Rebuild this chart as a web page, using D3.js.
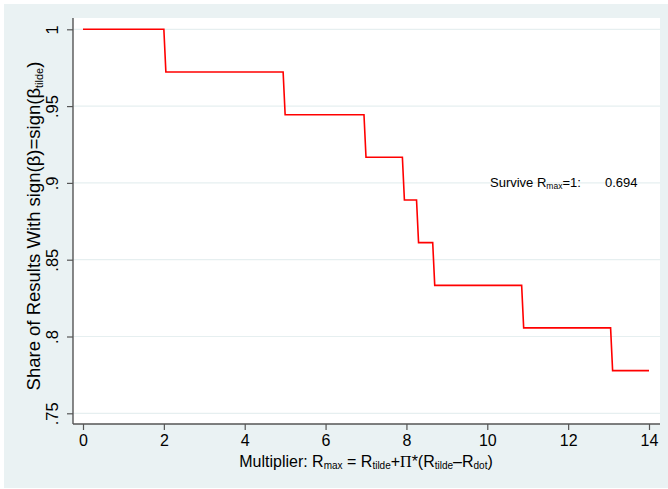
<!DOCTYPE html>
<html>
<head>
<meta charset="utf-8">
<script src="https://cdn.jsdelivr.net/npm/d3@7"></script>
<style>
  body { margin: 0; background: #fff; }
  svg { display: block; }
  text { font-family: 'Liberation Sans', Arial, sans-serif; fill: #000; }
</style>
</head>
<body>
<svg id="chart" width="668" height="489"></svg>
<script>
// step points of the share curve (multiplier, share)
const multiplier = [0, 2.0, 2.05, 4.95, 5.0, 6.95, 7.0, 7.9, 7.95, 8.25, 8.3, 8.65, 8.7, 10.85, 10.9, 13.05, 13.1, 14];
const share = [1, 1, 0.9722, 0.9722, 0.9444, 0.9444, 0.9167, 0.9167, 0.8889, 0.8889,
  0.8611, 0.8611, 0.8333, 0.8333, 0.8056, 0.8056, 0.7778, 0.7778];
const xTicks = [0, 2, 4, 6, 8, 10, 12, 14];
const yTicks = [0.75, 0.8, 0.85, 0.9, 0.95, 1];
const yTickLabels = ['.75', '.8', '.85', '.9', '.95', '1'];
const surviveValue = '0.694';

const svg = d3.select('#chart');

const frame = { left: 73, right: 660, top: 18, bottom: 424 };

const x = d3.scaleLinear().domain([0, 14]).range([83, 649]);
const y = d3.scaleLinear().domain([0.75, 1]).range([413.3, 29.3]);

// backgrounds
svg.append('rect')
  .attr('x', 4).attr('y', 4)
  .attr('width', 664).attr('height', 484)
  .attr('fill', '#eaf2f3');

svg.append('rect')
  .attr('x', frame.left).attr('y', frame.top)
  .attr('width', frame.right - frame.left)
  .attr('height', frame.bottom - frame.top)
  .attr('fill', '#fff');

// grid
svg.append('g')
  .selectAll('line')
  .data(yTicks)
  .join('line')
  .attr('x1', frame.left)
  .attr('x2', frame.right)
  .attr('y1', d => y(d))
  .attr('y2', d => y(d))
  .attr('stroke', '#e6eff0')
  .attr('stroke-width', 1.2);

// x axis
const xAxis = svg.append('g')
  .attr('transform', 'translate(0,' + frame.bottom + ')')
  .call(d3.axisBottom(x).tickValues(xTicks).tickSize(6).tickPadding(5).tickSizeOuter(0));
xAxis.select('.domain')
  .attr('d', 'M' + frame.left + ',0H' + frame.right)
  .attr('stroke', '#555')
  .attr('stroke-width', 1.4);
xAxis.selectAll('.tick line').attr('stroke', '#555').attr('stroke-width', 1.2);
xAxis.selectAll('.tick text')
  .attr('font-size', 16)
  .attr('font-family', "'Liberation Sans', Arial, sans-serif")
  .attr('fill', '#000');

// y axis
const yAxis = svg.append('g')
  .attr('transform', 'translate(' + frame.left + ',0)')
  .call(d3.axisLeft(y).tickValues(yTicks).tickSize(6).tickSizeOuter(0)
    .tickFormat((d, i) => yTickLabels[i]));
yAxis.select('.domain')
  .attr('d', 'M0,' + frame.top + 'V' + frame.bottom)
  .attr('stroke', '#555')
  .attr('stroke-width', 1.4);
yAxis.selectAll('.tick line').attr('stroke', '#555').attr('stroke-width', 1.2);
yAxis.selectAll('.tick text')
  .attr('font-size', 16.5)
  .attr('font-family', "'Liberation Sans', Arial, sans-serif")
  .attr('fill', '#000')
  .attr('x', null)
  .attr('dy', null)
  .attr('text-anchor', 'middle')
  .attr('transform', 'translate(-15,0) rotate(-90)');

// the curve
const line = d3.line()
  .x((d, i) => x(multiplier[i]))
  .y(d => y(d));

svg.append('path')
  .datum(share)
  .attr('d', line)
  .attr('fill', 'none')
  .attr('stroke', '#ff0000')
  .attr('stroke-width', 1.6);

// y title
const yTitle = svg.append('text')
  .attr('transform', 'translate(40,226) rotate(-90)')
  .attr('text-anchor', 'middle')
  .attr('font-size', 18.5);
yTitle.append('tspan').text('Share of Results With sign(β)=sign(β');
yTitle.append('tspan').attr('font-size', 11).attr('dy', 3).text('tilde');
yTitle.append('tspan').attr('dy', -3).text(')');

// x title
const xTitle = svg.append('text')
  .attr('x', 366)
  .attr('y', 467)
  .attr('text-anchor', 'middle')
  .attr('font-size', 16);
xTitle.append('tspan').text('Multiplier: R');
xTitle.append('tspan').attr('font-size', 10).attr('dy', 2).text('max');
xTitle.append('tspan').attr('dy', -2).text(' = R');
xTitle.append('tspan').attr('font-size', 10).attr('dy', 2).text('tilde');
xTitle.append('tspan').attr('dy', -2).text('+');
xTitle.append('tspan').attr('font-family', "'Liberation Serif', serif").text('Π');
xTitle.append('tspan').text('*(R');
xTitle.append('tspan').attr('font-size', 10).attr('dy', 2).text('tilde');
xTitle.append('tspan').attr('dy', -2).text('–R');
xTitle.append('tspan').attr('font-size', 10).attr('dy', 2).text('dot');
xTitle.append('tspan').attr('dy', -2).text(')');

// annotation
const note = svg.append('text')
  .attr('x', 490)
  .attr('y', 187)
  .attr('font-size', 13);
note.append('tspan').text('Survive R');
note.append('tspan').attr('font-size', 8.5).attr('dy', 2).text('max');
note.append('tspan').attr('dy', -2).text('=1:');
svg.append('text')
  .attr('x', 605)
  .attr('y', 187)
  .attr('font-size', 13)
  .text(surviveValue);
</script>
</body>
</html>
